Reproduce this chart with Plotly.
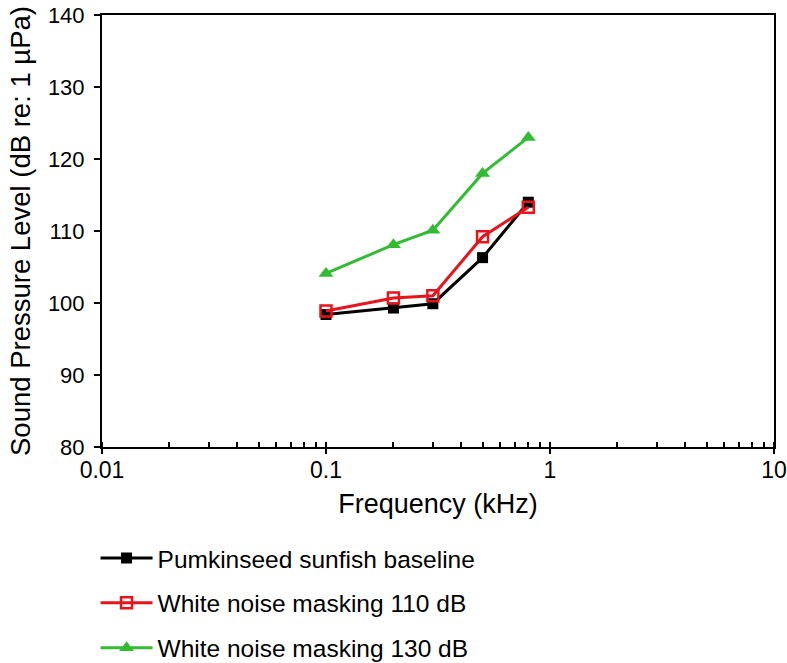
import plotly.graph_objects as go

freq_khz = [0.1, 0.2, 0.3, 0.5, 0.8]
baseline = [98.4, 99.3, 99.9, 106.3, 114.0]
masking_110 = [98.9, 100.7, 101.0, 109.2, 113.3]
masking_130 = [104.1, 108.1, 110.1, 118.0, 123.0]

series_names = ["Pumkinseed sunfish baseline",
                "White noise masking 110 dB",
                "White noise masking 130 dB"]

y_tickvals = [80, 90, 100, 110, 120, 130, 140]

FONT = "Liberation Sans, Arial, Helvetica, sans-serif"

fig = go.Figure()
fig.add_trace(go.Scatter(
    x=freq_khz, y=baseline, name=series_names[0], mode="lines+markers",
    line=dict(color="black", width=3),
    marker=dict(symbol="square", size=11, color="black"),
    legendgroup="a"))
fig.add_trace(go.Scatter(
    x=freq_khz, y=masking_110, name=series_names[1], mode="lines+markers",
    line=dict(color="#e8141c", width=3),
    marker=dict(symbol="square-open", size=11, color="#e8141c", line=dict(width=2.5)),
    legendgroup="b"))
fig.add_trace(go.Scatter(
    x=freq_khz, y=masking_130, name=series_names[2], mode="lines+markers",
    line=dict(color="#33bb33", width=3),
    marker=dict(symbol="triangle-up", size=13, color="#33bb33"),
    legendgroup="c"))

fig.update_layout(
    width=787, height=663,
    margin=dict(l=102, r=13, t=15, b=216, autoexpand=False),
    paper_bgcolor="white", plot_bgcolor="white",
    font=dict(family=FONT, color="black", size=22),
    showlegend=True,
    legend=dict(
        x=-0.0096, y=-0.205, xanchor="left", yanchor="top",
        orientation="v", tracegroupgap=10, itemwidth=52,
        font=dict(size=24.5, family=FONT, color="black"),
        bgcolor="rgba(0,0,0,0)", borderwidth=0),
    xaxis=dict(
        type="log", range=[-2, 1], dtick=1,
        ticks="outside", ticklen=5, tickwidth=2, tickcolor="black",
        minor=dict(dtick="D1", ticks="inside", ticklen=5, tickwidth=1.5,
                   tickcolor="black", showgrid=False),
        showline=True, linecolor="black", linewidth=2, mirror=True,
        showgrid=False, zeroline=False, automargin=False,
        tickfont=dict(size=23), ticklabelstandoff=-4,
        title=dict(text="Frequency (kHz)", font=dict(size=27), standoff=13)),
    yaxis=dict(
        range=[80, 140], tickvals=y_tickvals,
        ticks="outside", ticklen=6, tickwidth=2, tickcolor="black",
        showline=True, linecolor="black", linewidth=2, mirror=True,
        showgrid=False, zeroline=False, automargin=False,
        tickfont=dict(size=22), ticklabelstandoff=5,
        title=dict(text="Sound Pressure Level (dB re: 1 µPa)", font=dict(size=27.5), standoff=9)),
)

fig.write_html("out.html",
               config={"displayModeBar": False},
               post_script="document.body.style.margin='0';document.body.style.padding='0';")
